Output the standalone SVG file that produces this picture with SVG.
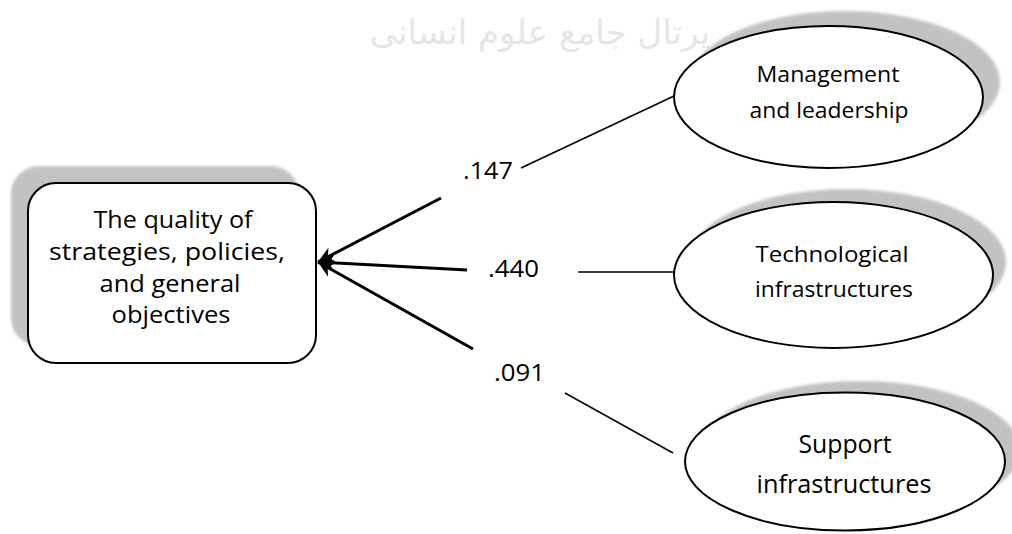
<svg xmlns="http://www.w3.org/2000/svg" width="1012" height="534" viewBox="0 0 1012 534">
  <style>
    .shadow { fill: #c2c2c2; stroke: none; }
    .node { fill: #ffffff; stroke: #000000; stroke-width: 2; }
    .lbl { font-family: "Open Sans", "Liberation Sans", sans-serif; fill: #000000; text-anchor: middle; }
    .num { font-family: "Open Sans", "Liberation Sans", sans-serif; fill: #000000; font-size: 24px; }
    .thin { stroke: #000000; stroke-width: 1.5; fill: none; }
    .thick { stroke: #000000; stroke-width: 3; fill: none; marker-end: url(#arrow); }
    .wm { font-family: "DejaVu Sans", sans-serif; fill: #e6e6e6; font-size: 34px; text-anchor: middle; }
  </style>
  <defs>
    <filter id="soft" x="-10%" y="-10%" width="120%" height="120%">
      <feGaussianBlur stdDeviation="1.5"/>
    </filter>
    <marker id="arrow" markerUnits="userSpaceOnUse" viewBox="-18 -10 20 20" refX="0" refY="0" markerWidth="20" markerHeight="20" orient="auto">
      <path d="M0,0 L-16,-8 L-11,0 L-16,8 Z" fill="#000000"/>
    </marker>
  </defs>

  <rect width="1012" height="534" fill="#ffffff"/>

  <g id="watermark">
    <text class="wm" x="540" y="44" direction="rtl">پرتال جامع علوم انسانی</text>
  </g>

  <g id="connectors">
    <line class="thin" x1="521" y1="168" x2="674" y2="96"/>
    <line class="thin" x1="578" y1="272" x2="674" y2="272"/>
    <line class="thin" x1="565" y1="393" x2="673" y2="453"/>
    <line class="thick" x1="441" y1="198" x2="318" y2="262"/>
    <line class="thick" x1="467" y1="270" x2="318" y2="262"/>
    <line class="thick" x1="473" y1="349" x2="318" y2="262"/>
    <text class="num" x="463" y="179" textLength="50" lengthAdjust="spacingAndGlyphs">.147</text>
    <text class="num" x="488" y="277" textLength="51" lengthAdjust="spacingAndGlyphs">.440</text>
    <text class="num" x="494" y="381" textLength="51" lengthAdjust="spacingAndGlyphs">.091</text>
  </g>

  <g id="node-quality">
    <rect class="shadow" filter="url(#soft)" x="11" y="166" width="288" height="180" rx="28" ry="28"/>
    <rect class="node" x="28" y="183" width="288" height="180" rx="28" ry="28"/>
    <text class="lbl" font-size="24" x="173" y="228" textLength="159" lengthAdjust="spacingAndGlyphs">The quality of</text>
    <text class="lbl" font-size="24" x="167" y="260" textLength="236" lengthAdjust="spacingAndGlyphs">strategies, policies,</text>
    <text class="lbl" font-size="24" x="170" y="292" textLength="141" lengthAdjust="spacingAndGlyphs">and general</text>
    <text class="lbl" font-size="24" x="171" y="323" textLength="119" lengthAdjust="spacingAndGlyphs">objectives</text>
  </g>

  <g id="node-management">
    <ellipse class="shadow" filter="url(#soft)" cx="845" cy="82" rx="155" ry="71"/>
    <ellipse class="node" cx="828.5" cy="97" rx="154.5" ry="71"/>
    <text class="lbl" font-size="22" x="828" y="82" textLength="143" lengthAdjust="spacingAndGlyphs">Management</text>
    <text class="lbl" font-size="22" x="829" y="118" textLength="159" lengthAdjust="spacingAndGlyphs">and leadership</text>
  </g>

  <g id="node-technological">
    <ellipse class="shadow" filter="url(#soft)" cx="847" cy="262" rx="159" ry="73"/>
    <ellipse class="node" cx="833.5" cy="275" rx="159.5" ry="73"/>
    <text class="lbl" font-size="22" x="832" y="262" textLength="153" lengthAdjust="spacingAndGlyphs">Technological</text>
    <text class="lbl" font-size="22" x="834" y="297" textLength="158" lengthAdjust="spacingAndGlyphs">infrastructures</text>
  </g>

  <g id="node-support">
    <ellipse class="shadow" filter="url(#soft)" cx="860" cy="450" rx="160" ry="69"/>
    <ellipse class="node" cx="845" cy="461.5" rx="160" ry="69"/>
    <text class="lbl" font-size="25" x="845" y="453" textLength="93" lengthAdjust="spacingAndGlyphs">Support</text>
    <text class="lbl" font-size="25" x="844" y="493" textLength="175" lengthAdjust="spacingAndGlyphs">infrastructures</text>
  </g>
</svg>
